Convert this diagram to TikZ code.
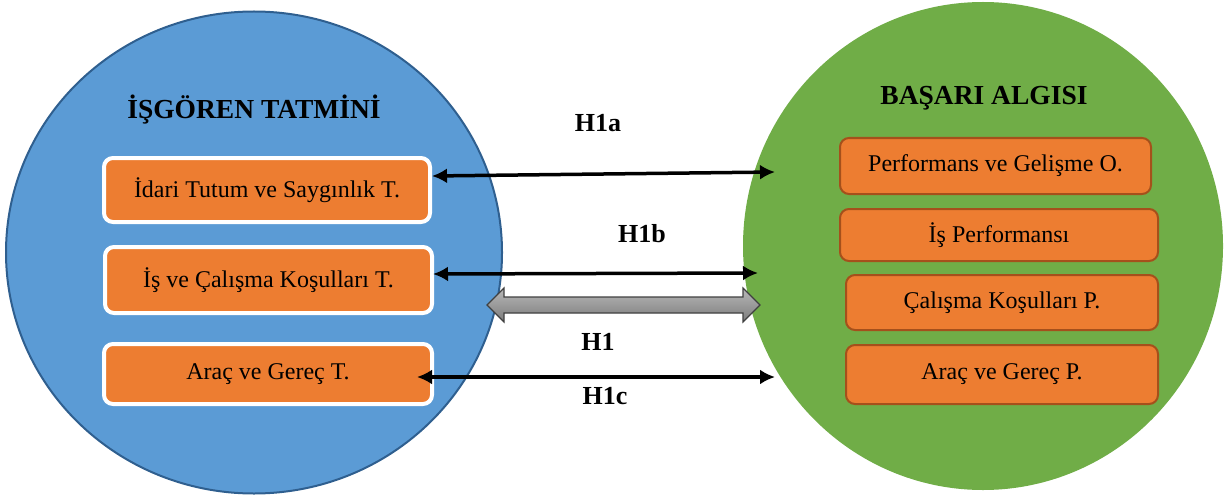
\documentclass[tikz,border=0pt]{standalone}
\usepackage{fontspec}
\setmainfont{Liberation Serif}
\usetikzlibrary{arrows.meta,calc}
\definecolor{cblue}{HTML}{5B9BD5}
\definecolor{cblueline}{HTML}{2F5F8F}
\definecolor{cgreen}{HTML}{70AD47}
\definecolor{corange}{HTML}{ED7D31}
\definecolor{cbrown}{HTML}{A5501B}
\definecolor{cgrayline}{HTML}{404040}
\definecolor{cgraytop}{HTML}{B8B8B8}
\definecolor{cgraybot}{HTML}{7C7C7C}
\tikzset{
  leftbox/.style={draw=white, line width=4pt, fill=corange, rounded corners=9pt, inner sep=0pt,
    font=\fontsize{24}{28}\selectfont, text=black},
  rightbox/.style={draw=cbrown, line width=2pt, fill=corange, rounded corners=9pt, inner sep=0pt,
    font=\fontsize{24}{28}\selectfont, text=black},
  titletext/.style={font=\fontsize{27.5}{32}\selectfont\bfseries, anchor=base, inner sep=0pt},
  hlabel/.style={font=\fontsize{26}{30}\selectfont\bfseries, anchor=base, inner sep=0pt},
  relarrow/.style={line width=3.5pt, {Latex[length=15pt,width=15pt]}-{Latex[length=15pt,width=15pt]}},
}
\begin{document}
\begin{tikzpicture}[x=1pt,y=1pt]
\useasboundingbox (0,0) rectangle (1225,499);
% circles
\draw[fill=cblue, draw=cblueline, line width=2pt] (254,246.5) ellipse [x radius=248, y radius=241];
\fill[cgreen] (983,253) ellipse [x radius=240, y radius=244];
% titles
\node[titletext] (tl) at (254,381) {İŞGÖREN TATMİNİ};
\node[titletext] (tr) at (984,394) {BAŞARI ALGISI};
% left boxes
\node[leftbox, minimum width=326pt, minimum height=64pt] (lb1) at (267,309) {İdari Tutum ve Saygınlık T.};
\node[leftbox, minimum width=327pt, minimum height=66pt] (lb2) at (268.5,219) {İş ve Çalışma Koşulları T.};
\node[leftbox, minimum width=328pt, minimum height=60pt] (lb3) at (268,125) {Araç ve Gereç T.};
% right boxes
\node[rightbox, minimum width=311pt, minimum height=56pt] (rb1) at (995.5,333) {Performans ve Gelişme O.};
\node[rightbox, minimum width=318pt, minimum height=52pt] (rb2) at (999,264) {İş Performansı};
\node[rightbox, minimum width=312pt, minimum height=55pt] (rb3) at (1002,196.5) {Çalışma Koşulları P.};
\node[rightbox, minimum width=312pt, minimum height=59pt] (rb4) at (1002,124.5) {Araç ve Gereç P.};
% arrow end points
\coordinate (a1r) at (775,327);
\coordinate (a2r) at (758,226);
\coordinate (a3r) at (775,122);
\coordinate (g1) at (487,194);
\coordinate (g2) at (760,194);
% arrows
\draw[relarrow] ([yshift=14pt]lb1.east) -- (a1r);
\draw[relarrow] ([xshift=-1pt,yshift=6pt]lb2.east) -- (a2r);
\draw[relarrow] ([xshift=-17pt,yshift=-3pt]lb3.east) -- (a3r);
% gray double arrow H1
\shade[top color=cgraytop, bottom color=cgraybot, draw=cgrayline, line width=1.2pt]
  (g1) -- ($(g1)+(17,17)$) -- ($(g1)+(17,8)$) -- ($(g2)+(-17,8)$) -- ($(g2)+(-17,17)$) -- (g2)
  -- ($(g2)+(-17,-17)$) -- ($(g2)+(-17,-8)$) -- ($(g1)+(17,-8)$) -- ($(g1)+(17,-17)$) -- cycle;
% labels
\node[hlabel] (h1a) at (598,367) {H1a};
\node[hlabel] (h1b) at (642,257) {H1b};
\node[hlabel] (h1) at (598,149) {H1};
\node[hlabel] (h1c) at (605,95) {H1c};
\end{tikzpicture}
\end{document}
